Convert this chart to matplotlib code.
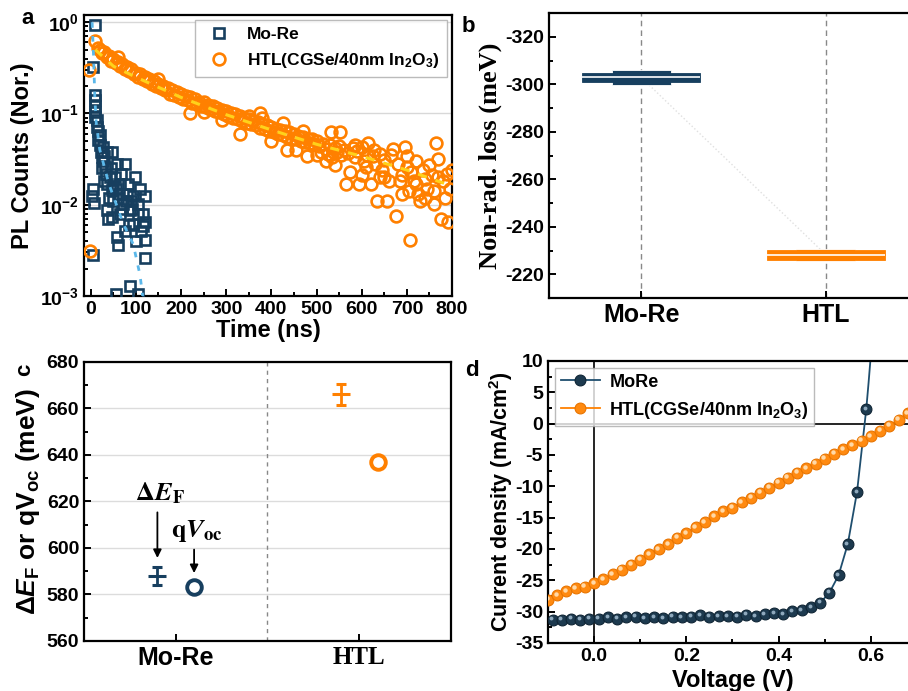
import matplotlib
matplotlib.use('Agg')
import matplotlib.pyplot as plt
import matplotlib.transforms as mtransforms
from matplotlib.ticker import MultipleLocator, FixedLocator, LogLocator, NullFormatter

plt.rcParams['font.family'] = ['Liberation Sans', 'DejaVu Sans']
plt.rcParams['font.weight'] = 'bold'
plt.rcParams['axes.labelweight'] = 'bold'
plt.rcParams['axes.unicode_minus'] = False
plt.rcParams['mathtext.fontset'] = 'custom'
plt.rcParams['mathtext.rm'] = 'Liberation Sans:bold'
plt.rcParams['mathtext.it'] = 'Liberation Sans:italic:bold'
plt.rcParams['mathtext.bf'] = 'Liberation Sans:bold'
plt.rcParams['mathtext.default'] = 'rm'
plt.rcParams['xtick.direction'] = 'in'
plt.rcParams['ytick.direction'] = 'in'
plt.rcParams['axes.linewidth'] = 1.6

NAVY = '#173f5f'
ORANGE = '#ff8000'

# ---- panel a: TRPL decay ----
mo_t = [9.5, 4.4, 9.5, 9.5, 9, 9.5, 10, 13, 13, 20, 17, 15, 28, 24, 31, 20, 35, 46, 42, 36,
        47, 50, 36, 39, 47, 58, 65, 68, 76, 72, 65, 80, 83, 87, 94, 94, 98, 105, 105, 111,
        120, 120, 120, 120, 76, 58, 61, 87, 56, 105, 6, 2, 7, 6, 25, 30, 55, 60, 70, 85,
        100, 115, 90, 53, 44, 110, 40, 30, 22, 27, 33, 50, 62, 78, 92, 115]
mo_pl = [0.94, 0.32, 0.16, 0.14, 0.12, 0.105, 0.092, 0.071, 0.085, 0.058, 0.051, 0.065, 0.043,
         0.033, 0.026, 0.045, 0.038, 0.038, 0.020, 0.017, 0.0144, 0.011, 0.0087, 0.0070, 0.0073,
         0.028, 0.017, 0.022, 0.028, 0.0102, 0.0079, 0.013, 0.017, 0.0087, 0.0062, 0.0126,
         0.020, 0.0102, 0.0079, 0.0052, 0.0126, 0.0064, 0.0041, 0.0026, 0.0052, 0.0044, 0.0036,
         0.0013, 0.00105, 0.00105, 0.015, 0.0126, 0.0104, 0.0028, 0.025, 0.018, 0.015, 0.012,
         0.009, 0.006, 0.004, 0.008, 0.011, 0.020, 0.025, 0.015, 0.012, 0.034, 0.038, 0.030,
         0.022, 0.016, 0.013, 0.011, 0.009, 0.0058]

htl_t = [-5, -2, 10, 15, 20, 25, 30, 35, 40, 45, 50, 55, 60, 65, 70, 75, 80, 85, 90, 95, 100,
         105, 110, 115, 120, 125, 130, 135, 140, 145, 150, 155, 160, 165, 170, 175, 180, 185,
         190, 195, 200, 205, 210, 215, 220, 225, 230, 235, 240, 245, 250, 255, 260, 265, 270,
         275, 280, 285, 290, 295, 300, 305, 310, 315, 320, 325, 330, 335, 340, 345, 350, 355,
         360, 365, 370, 375, 380, 385, 390, 395, 400, 405, 410, 415, 420, 425, 430, 435, 440,
         445, 450, 455, 460, 465, 470, 475, 480, 485, 490, 495, 500,
         220, 330, 375, 426, 434, 478, 500, 520, 533, 553, 380, 400, 455, 470, 350, 290, 250,
         150, 60,
         505, 510, 515, 520, 525, 530, 535, 540, 545, 550, 555, 560, 565, 570, 575, 580, 585,
         590, 595, 600, 605, 610, 615, 620, 625, 630, 635, 640, 645, 650, 655, 660, 665, 670,
         675, 680, 685, 690, 695, 700, 705, 708, 710, 715, 720, 725, 730, 735, 740, 745, 750,
         755, 760, 765, 770, 775, 780, 785, 790, 792, 795, 800,
         540, 585, 600, 628, 650, 690, 720, 740, 770, 760, 612, 700, 640]
htl_pl = [0.30, 0.0031, 0.62, 0.52, 0.50, 0.46, 0.47, 0.42, 0.43, 0.38, 0.40, 0.36, 0.37, 0.33,
          0.35, 0.31, 0.32, 0.29, 0.31, 0.27, 0.28, 0.25, 0.27, 0.24, 0.25, 0.225, 0.24, 0.21,
          0.225, 0.20, 0.21, 0.19, 0.20, 0.18, 0.19, 0.165, 0.18, 0.16, 0.17, 0.15, 0.165, 0.145,
          0.155, 0.14, 0.15, 0.13, 0.145, 0.127, 0.135, 0.12, 0.132, 0.117, 0.125, 0.112, 0.12,
          0.107, 0.116, 0.103, 0.11, 0.099, 0.106, 0.095, 0.102, 0.09, 0.098, 0.087, 0.093, 0.082,
          0.09, 0.079, 0.086, 0.077, 0.082, 0.074, 0.080, 0.07, 0.077, 0.068, 0.074, 0.065, 0.071,
          0.063, 0.068, 0.060, 0.066, 0.058, 0.064, 0.055, 0.062, 0.053, 0.059, 0.052, 0.057,
          0.050, 0.055, 0.049, 0.053, 0.047, 0.052, 0.046, 0.050,
          0.10, 0.060, 0.10, 0.078, 0.040, 0.034, 0.035, 0.030, 0.063, 0.063, 0.090, 0.050,
          0.040, 0.065, 0.095, 0.085, 0.105, 0.24, 0.42,
          0.044, 0.038, 0.046, 0.041, 0.036, 0.045, 0.033, 0.042, 0.038, 0.044, 0.035, 0.040,
          0.017, 0.037, 0.023, 0.042, 0.033, 0.039, 0.017, 0.043, 0.030, 0.026, 0.047, 0.017,
          0.034, 0.028, 0.011, 0.036, 0.024, 0.031, 0.011, 0.018, 0.035, 0.041, 0.0076, 0.028,
          0.018, 0.021, 0.043, 0.026, 0.014, 0.0041, 0.023, 0.018, 0.030, 0.013, 0.011, 0.024,
          0.019, 0.015, 0.027, 0.021, 0.0102, 0.047, 0.032, 0.0069, 0.018, 0.012, 0.022, 0.0065,
          0.015, 0.024,
          0.027, 0.045, 0.021, 0.040, 0.020, 0.013, 0.017, 0.012, 0.020, 0.014, 0.035, 0.034, 0.020]

mo_fit_t = [3, 6, 9, 12, 20, 40, 72, 94, 109, 115]
mo_fit_pl = [1.0, 0.45, 0.15, 0.08, 0.04, 0.017, 0.0062, 0.0037, 0.0017, 0.001]
htl_fit_t = [10, 50, 100, 200, 300, 400, 500, 600, 700, 800]
htl_fit_pl = [0.5, 0.33, 0.25, 0.15, 0.097, 0.066, 0.046, 0.034, 0.024, 0.016]

# ---- panel b: non-radiative loss boxes ----
cats = ['Mo-Re', 'HTL']
nr_whisk_lo = [-306.0, -230.6]
nr_whisk_hi = [-299.6, -225.8]
nr_box_lo = [-304.8, -230.2]
nr_box_hi = [-300.9, -226.2]
nr_median = [-302.9, -228.3]

# ---- panel c: QFLS vs qVoc ----
dEF = [588, 666]
dEF_err = [4, 4.5]
qVoc = [583, 637]

# ---- panel d: J-V ----
more_v = [-0.09, -0.07, -0.05, -0.03, -0.01, 0.01, 0.03, 0.05, 0.07, 0.09, 0.11, 0.13, 0.15,
          0.17, 0.19, 0.21, 0.23, 0.25, 0.27, 0.29, 0.31, 0.33, 0.35, 0.37, 0.39, 0.41, 0.43,
          0.45, 0.47, 0.49, 0.51, 0.53, 0.55, 0.57, 0.59]
more_j = [-31.3, -31.3, -31.1, -31.3, -31.1, -31.1, -30.9, -31.1, -30.9, -30.8, -31.0, -30.9,
          -31.0, -30.8, -30.9, -30.8, -30.6, -30.8, -30.7, -30.7, -30.8, -30.5, -30.7, -30.4,
          -30.2, -30.4, -29.9, -29.8, -29.3, -28.6, -27.0, -24.2, -19.2, -10.9, 2.3]
more_tail_v = [0.59, 0.595, 0.600, 0.605]
more_tail_j = [2.3, 6.5, 11.0, 15.0]
htl_v = [-0.10, -0.08, -0.06, -0.04, -0.02, 0.00, 0.02, 0.04, 0.06, 0.08, 0.10, 0.12, 0.14,
         0.16, 0.18, 0.20, 0.22, 0.24, 0.26, 0.28, 0.30, 0.32, 0.34, 0.36, 0.38, 0.40, 0.42,
         0.44, 0.46, 0.48, 0.50, 0.52, 0.54, 0.56, 0.58, 0.60, 0.62, 0.64, 0.66, 0.68]
htl_j = [-28.1, -27.4, -26.7, -26.3, -26.0, -25.5, -24.8, -24.0, -23.3, -22.5, -21.7, -20.8,
         -20.0, -19.2, -18.2, -17.5, -16.5, -15.7, -14.8, -14.0, -13.4, -12.5, -11.8, -11.0,
         -10.2, -9.4, -8.6, -7.8, -7.1, -6.4, -5.6, -4.8, -4.1, -3.4, -2.7, -2.0, -1.1, -0.3,
         0.6, 1.7]

fig = plt.figure(figsize=(9.08, 6.91), dpi=100)

# ================= a =================
ax = fig.add_axes([0.0925, 0.5716, 0.4053, 0.4067])
ax.set_yscale('log')
ax.yaxis.grid(True, which='major', color='#d8d8d8', lw=1.0)
ax.set_axisbelow(True)
ax.plot(mo_t, mo_pl, 's', mfc='none', mec=NAVY, ms=7.5, mew=1.9, label='Mo-Re', zorder=3)
ax.plot(htl_t, htl_pl, 'o', mfc='none', mec=ORANGE, ms=8.5, mew=1.9,
        label=r'HTL(CGSe/40nm In$_2$O$_3$)', zorder=3)
ax.plot(mo_fit_t, mo_fit_pl, '--', color='#5bb8ea', lw=2, dashes=(2, 3), zorder=4)
ax.plot(htl_fit_t, htl_fit_pl, '--', color='#ffd21a', lw=2.2, dashes=(3, 3), zorder=4)
ax.set_xlim(-15, 800)
ax.set_ylim(1e-3, 1.2)
ax.xaxis.set_major_locator(MultipleLocator(100))
ax.xaxis.set_minor_locator(MultipleLocator(50))
ax.yaxis.set_major_locator(FixedLocator([1e-3, 1e-2, 1e-1, 1]))
ax.set_yticklabels([r'$10^{-3}$', r'$10^{-2}$', r'$10^{-1}$', r'$10^{0}$'])
ax.yaxis.set_minor_locator(LogLocator(base=10, subs=range(2, 10)))
ax.yaxis.set_minor_formatter(NullFormatter())
ax.tick_params(which='both', top=False, right=False, labelsize=14, width=1.4)
ax.tick_params(which='major', length=5)
ax.tick_params(which='minor', length=3)
ax.set_xlabel('Time (ns)', fontsize=17, labelpad=1)
ax.set_ylabel('PL Counts (Nor.)', fontsize=17, labelpad=4)
leg = ax.legend(loc='upper right', fontsize=12.5, frameon=True, fancybox=False,
                edgecolor='#aaaaaa', borderaxespad=0.3, handletextpad=0.6, borderpad=0.4)
leg.get_frame().set_linewidth(1.0)
fig.text(28 / 908, 1 - 18 / 691, 'a', fontsize=16, ha='center', va='center')

# ================= b =================
ax = fig.add_axes([0.6046, 0.5687, 0.4064, 0.4124])
bcolors = [NAVY, ORANGE]
for i in range(2):
    ax.bar(i, nr_whisk_hi[i] - nr_whisk_lo[i], bottom=nr_whisk_lo[i], width=0.32,
           color=bcolors[i], edgecolor='white', lw=0.6, zorder=3)
    ax.bar(i, nr_box_hi[i] - nr_box_lo[i], bottom=nr_box_lo[i], width=0.64,
           color=bcolors[i], edgecolor=bcolors[i], lw=0.6, zorder=4)
    ax.hlines(nr_median[i], i - 0.32, i + 0.32, color='white', lw=1.2, zorder=5)
ax.plot([0, 1], nr_median, ':', color='#e0e0e0', lw=1, zorder=2)
for i in range(2):
    ax.axvline(i, color='#888888', lw=1, ls='--', dashes=(4, 3), zorder=1)
ax.set_xlim(-0.5, 1.5)
ax.set_ylim(-210, -330)
ax.set_xticks([0, 1])
ax.set_xticklabels(cats, fontsize=18)
ax.yaxis.set_major_locator(MultipleLocator(20))
ax.yaxis.set_minor_locator(MultipleLocator(10))
ax.tick_params(which='both', top=False, right=False, width=1.4)
ax.tick_params(axis='y', labelsize=14)
ax.tick_params(which='major', length=5)
ax.tick_params(which='minor', length=3)
ax.set_ylabel('Non-rad. loss (meV)', fontsize=19, family='Liberation Serif', labelpad=2)
fig.text(468 / 908, 1 - 27 / 691, 'b', fontsize=16, ha='center', va='center')

# ================= c =================
ax = fig.add_axes([0.0925, 0.0724, 0.4042, 0.4038])
ax.yaxis.grid(True, which='major', color='#dcdcdc', lw=1.0)
ax.set_axisbelow(True)
ax.axvline(0.5, color='#888888', lw=1, ls='--', dashes=(3, 3), zorder=1)
for i in range(2):
    c = bcolors[i]
    ax.errorbar(i - 0.1, dEF[i], yerr=dEF_err[i], fmt='_', color=c, ms=13, mew=2.2,
                elinewidth=2, capsize=3.5, capthick=2, zorder=3)
    ax.plot(i + 0.1, qVoc[i], 'o', mfc='none', mec=c, ms=10.5, mew=2.8, zorder=3)
ax.set_xlim(-0.5, 1.5)
ax.set_ylim(560, 680)
ax.set_xticks([0, 1])
ax.set_xticklabels(cats, fontsize=18)
ax.get_xticklabels()[1].set_family('Liberation Serif')
ax.yaxis.set_major_locator(MultipleLocator(20))
ax.yaxis.set_minor_locator(MultipleLocator(10))
ax.tick_params(which='both', top=False, right=False, width=1.4)
ax.tick_params(axis='y', labelsize=14)
ax.tick_params(which='major', length=5)
ax.tick_params(which='minor', length=3)
ax.set_ylabel(r'$\Delta\mathit{E}_\mathrm{F}$ or q$V_\mathrm{oc}$ (meV)', fontsize=19, labelpad=3)
ax.annotate('', xy=(-0.1, 594.5), xytext=(-0.1, 616.5),
            arrowprops=dict(arrowstyle='-|>', color='black', lw=1.3, mutation_scale=12))
ax.annotate('', xy=(0.1, 588.0), xytext=(0.1, 600.5),
            arrowprops=dict(arrowstyle='-|>', color='black', lw=1.3, mutation_scale=12))
ax.text(-0.087, 623.5, r'$\Delta\mathbfit{E}_\mathbf{F}$', fontsize=19, ha='center',
        va='center', math_fontfamily='stix')
ax.text(0.115, 607.5, r'$\mathbf{q}\mathbfit{V}_\mathbf{oc}$', fontsize=19, ha='center',
        va='center', math_fontfamily='stix')
fig.text(25 / 908, 1 - 370 / 691, 'c', fontsize=16, ha='center', va='center', rotation=90)

# ================= d =================
ax = fig.add_axes([0.6035, 0.0695, 0.4064, 0.4081])
ax.axhline(0, color='black', lw=1.2, zorder=1)
ax.axvline(0, color='black', lw=1.2, zorder=1)
ax.plot(more_tail_v, more_tail_j, '-', color='#1f4e6e', lw=1.3, zorder=2)
ax.plot(more_v, more_j, '-o', color='#1f4e6e', lw=1.3, ms=7.8, mfc='#1d3a4f', mec='#0f2535',
        mew=0.8, label='MoRe', zorder=3)
ax.plot(htl_v, htl_j, '-o', color=ORANGE, lw=1.3, ms=7.8, mfc='#ff8a10', mec='#e87400',
        mew=0.8, label=r'HTL(CGSe/40nm In$_2$O$_3$)', zorder=3)
hl = mtransforms.offset_copy(ax.transData, fig=fig, x=-1.0, y=1.0, units='points')
ax.plot(more_v, more_j, 'o', ms=2.8, color='#8fa9bd', mec='none', transform=hl, zorder=4)
ax.plot(htl_v, htl_j, 'o', ms=3.2, color='#ffd9a8', mec='none', transform=hl, zorder=4)
ax.set_xlim(-0.1, 0.7)
ax.set_ylim(-35, 10)
ax.xaxis.set_major_locator(MultipleLocator(0.2))
ax.xaxis.set_minor_locator(MultipleLocator(0.1))
ax.yaxis.set_major_locator(MultipleLocator(5))
ax.yaxis.set_minor_locator(MultipleLocator(2.5))
ax.xaxis.set_major_formatter(matplotlib.ticker.FormatStrFormatter('%.1f'))
ax.tick_params(which='both', top=False, right=False, labelsize=14, width=1.4)
ax.tick_params(which='major', length=5)
ax.tick_params(which='minor', length=3)
ax.set_xlabel('Voltage (V)', fontsize=17, labelpad=3)
ax.set_ylabel(r'Current density (mA/cm$^2$)', fontsize=15.5, labelpad=0)
leg = ax.legend(loc='upper left', fontsize=13, frameon=True, fancybox=False,
                edgecolor='#aaaaaa', borderaxespad=0.4, handletextpad=0.5, borderpad=0.3,
                handlelength=2.2)
leg.get_frame().set_linewidth(1.0)
fig.text(472 / 908, 1 - 371 / 691, 'd', fontsize=16, ha='center', va='center')

fig.savefig('out.png', dpi=100)
